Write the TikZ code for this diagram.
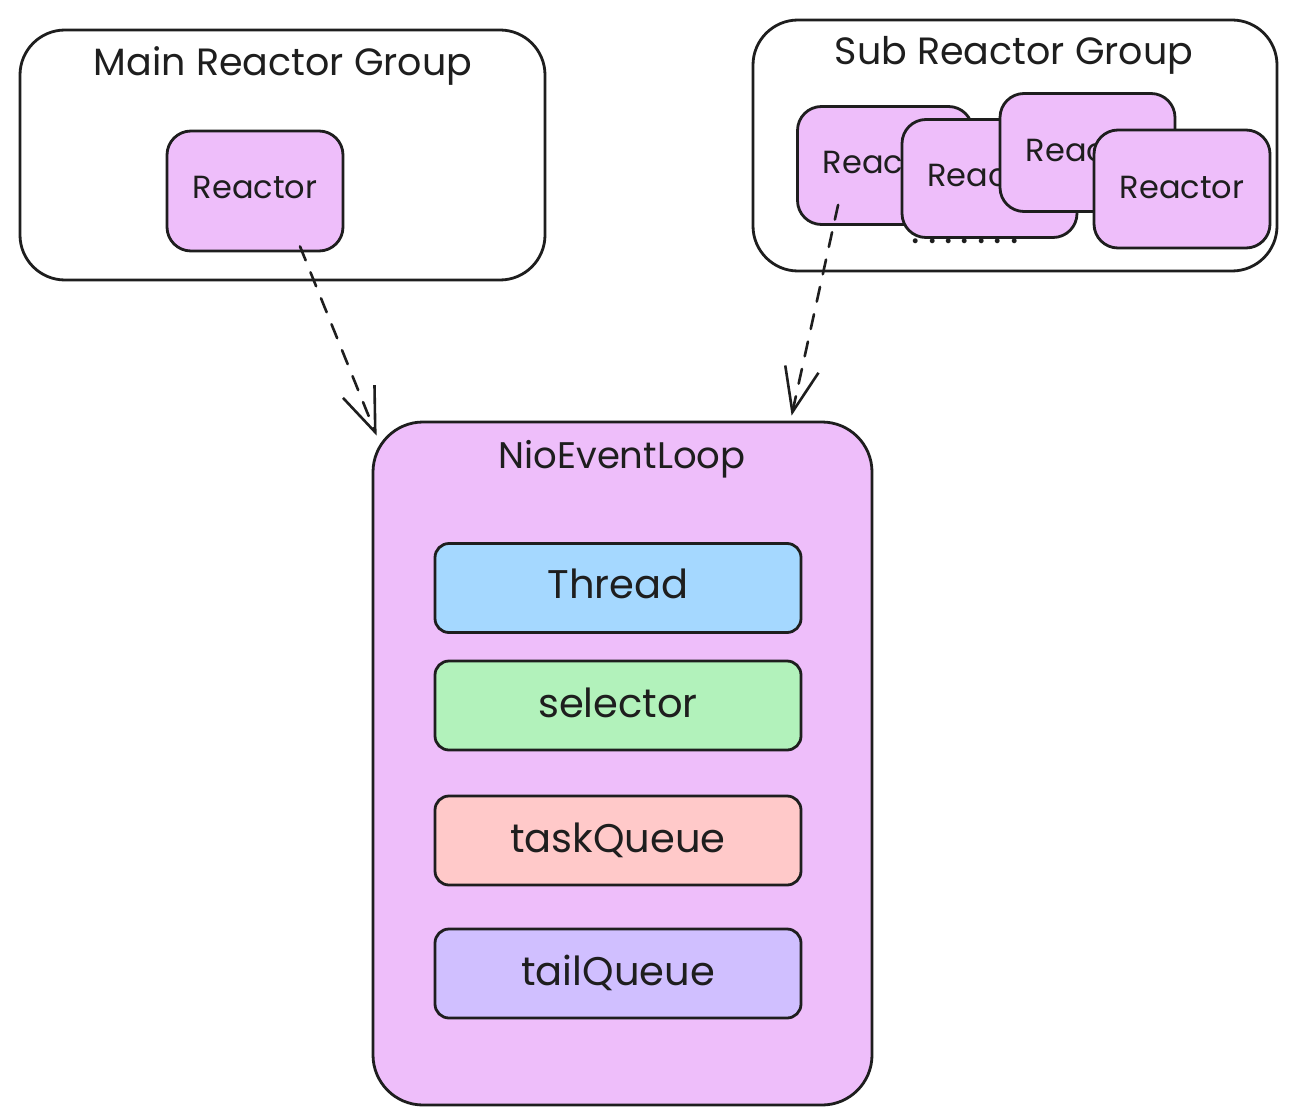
\documentclass[tikz,border=0pt]{standalone}
\usepackage{fontspec}
\setmainfont{Poppins}
\usetikzlibrary{arrows.meta,calc}
\definecolor{ink}{HTML}{1E1E1E}
\definecolor{violetfill}{HTML}{EEBEFA}
\definecolor{bluefill}{HTML}{A5D8FF}
\definecolor{greenfill}{HTML}{B2F2BB}
\definecolor{redfill}{HTML}{FFC9C9}
\definecolor{purplefill}{HTML}{D0BFFF}
\tikzset{
  groupbox/.style={draw=ink, line width=2.8pt, rounded corners=45pt, inner sep=0pt, fill=white},
  reactorbox/.style={draw=ink, line width=2.8pt, rounded corners=24pt, inner sep=0pt, fill=violetfill, minimum width=175pt, minimum height=118pt},
  loopbox/.style={draw=ink, line width=2.8pt, rounded corners=50pt, inner sep=0pt, fill=violetfill},
  partbox/.style={draw=ink, line width=2.8pt, rounded corners=14pt, inner sep=0pt, minimum width=366pt, minimum height=89pt},
  title/.style={anchor=base, text=ink, font=\fontsize{38}{44}\selectfont, inner sep=0pt},
  rlabel/.style={anchor=base, text=ink, font=\fontsize{32}{38}\selectfont, inner sep=0pt},
  plabel/.style={anchor=base, text=ink, font=\fontsize{40}{46}\selectfont, inner sep=0pt},
  dasharrow/.style={draw=ink, line width=2.6pt, dash pattern=on 15pt off 13pt, line cap=round,
    -{Straight Barb[length=44pt,width=34pt,line width=2.6pt]}},
}
\begin{document}
\begin{tikzpicture}[x=1pt,y=-1pt]
\useasboundingbox (0,0) rectangle (1297,1118);
\fill[white] (0,0) rectangle (1297,1118);

% Main Reactor Group
\node[groupbox, minimum width=525pt, minimum height=250pt] (mg) at (282.5,155) {};
\node[title] (mgt) at (283,76) {Main Reactor Group};
\node[reactorbox, minimum width=176pt, minimum height=120pt] (mr) at (255,191) {};
\node[rlabel] (mrl) at (255,198) {Reactor};

% Sub Reactor Group
\node[groupbox, minimum width=524pt, minimum height=251pt] (sg) at (1015,145.5) {};
\node[title] (sgt) at (1014,65) {Sub Reactor Group};
\node[reactorbox] (sr1) at (885,165.5) {};
\node[rlabel] (sr1l) at (885,174) {Reactor};
\node[rlabel, font=\fontsize{40}{46}\selectfont] (dots) at (965,243) {.\hspace{8pt}.\hspace{8pt}.\hspace{8pt}.\hspace{8pt}.\hspace{8pt}.\hspace{8pt}.};
\node[reactorbox] (sr2) at (989.5,178.5) {};
\node[rlabel] (sr2l) at (989.5,186) {Reactor};
\node[reactorbox] (sr3) at (1087.5,152.5) {};
\node[rlabel] (sr3l) at (1088,161) {Reactor};
\node[reactorbox, minimum width=176pt] (sr4) at (1182,189) {};
\node[rlabel] (sr4l) at (1182,198) {Reactor};

% NioEventLoop
\node[loopbox, minimum width=499pt, minimum height=683pt] (nel) at (622.5,763.5) {};
\node[title, font=\fontsize{37}{43}\selectfont] (nelt) at (622,468) {NioEventLoop};
\node[partbox, fill=bluefill] (thr) at (618,588) {};
\node[plabel] (thrl) at (618,598) {Thread};
\node[partbox, fill=greenfill] (sel) at (618,705.5) {};
\node[plabel] (sell) at (618,717) {selector};
\node[partbox, fill=redfill] (tq) at (618,840.5) {};
\node[plabel] (tql) at (618,852) {taskQueue};
\node[partbox, fill=purplefill] (tl) at (618,973.5) {};
\node[plabel] (tll) at (618,985) {tailQueue};

% arrows
\coordinate (a1s) at ($(mr.south)+(45,-6)$);
\coordinate (a1e) at ($(nel.north west)+(5,15)$);
\coordinate (a2s) at ($(sr1.south west)+(42,-21)$);
\coordinate (a2e) at ($(nel.north west)+(420,-5)$);
\draw[dasharrow] (a1s) -- (a1e);
\draw[dasharrow] (a2s) -- (a2e);
\end{tikzpicture}
\end{document}
